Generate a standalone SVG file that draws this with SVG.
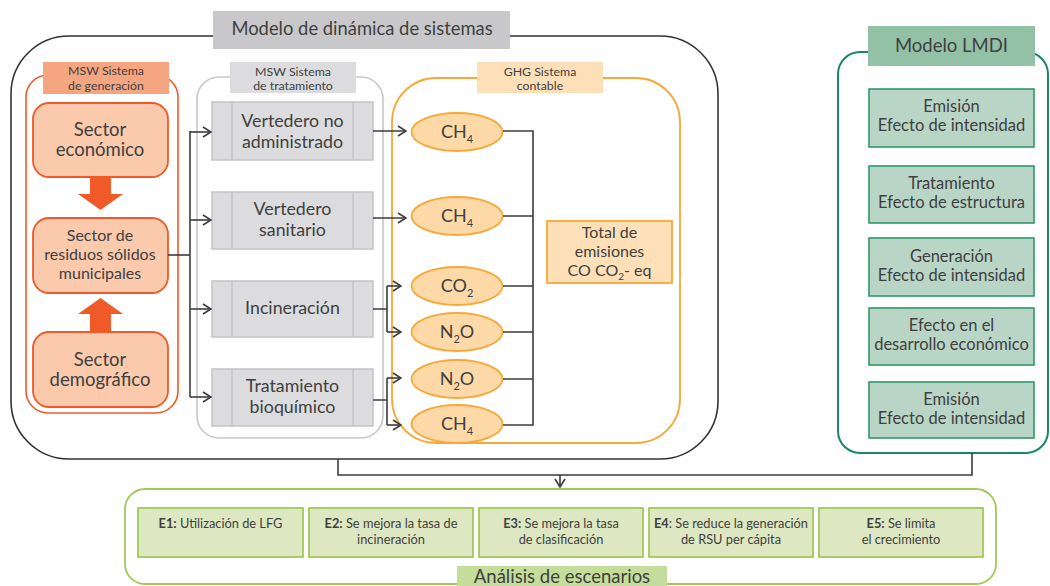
<svg xmlns="http://www.w3.org/2000/svg" width="1050" height="586" viewBox="0 0 1050 586">
<defs>
<style>
text{font-family:Lato,"Open Sans","Liberation Sans",sans-serif;fill:#404040;text-anchor:middle}
.t17{font-size:17.8px}.t18{font-size:18.5px}.t15{font-size:16px}.t11{font-size:12.3px}.t12{font-size:12.8px}.tl{font-size:16.5px}.gt{font-size:18px}.tt{font-size:16px}
.sector{fill:#fbc9ac;stroke:#f05a28;stroke-width:1.8}
.trt{fill:#dcdcde;stroke:#c4c4c6;stroke-width:1.5}
.gas{fill:#fdd9a8;stroke:#f9a838;stroke-width:1.8}
.lmdi{fill:#b9d5c6;stroke:#2e9a6a;stroke-width:1.6}
.esc{fill:#dde8c2;stroke:#a2c85a;stroke-width:1.8}
.con{fill:none;stroke:#3c3c3c;stroke-width:1.6}
.big{fill:#f05a28}
</style>
<marker id="arr" markerWidth="12" markerHeight="12" viewBox="0 0 12 12" refX="11" refY="6" orient="auto" markerUnits="userSpaceOnUse">
<path d="M3,1 L11,6 L3,11" fill="none" stroke="#3c3c3c" stroke-width="1.6"/>
</marker>
</defs>
<rect width="1050" height="586" fill="#fff"/>

<g id="modelo-dinamica">
<rect x="11" y="36" width="707" height="423" rx="58" fill="none" stroke="#333" stroke-width="1.6"/>
<rect x="213" y="11" width="297" height="38" fill="#c8c8ca"/>
<text x="362" y="35" style="font-size:18.4px">Modelo de dinámica de sistemas</text>
</g>

<g id="sistema-generacion">
<rect x="26" y="75" width="152" height="338" rx="22" fill="#fff" stroke="#f05a28" stroke-width="1.6"/>
<rect x="43" y="62" width="126" height="32" fill="#f5a680"/>
<text class="t11" x="106" y="74.5">MSW Sistema</text>
<text class="t11" x="106" y="89.5">de generación</text>
</g>

<g id="sector-economico">
<rect class="sector" x="33" y="103" width="135" height="74" rx="16"/>
<text class="t18" x="100" y="136">Sector</text>
<text class="t18" x="100" y="156">económico</text>
</g>
<g id="flecha-abajo">
<path class="big" d="M90,177 H111 V194 H123 L100.5,210 L78,194 H90 Z"/>
</g>
<g id="sector-residuos">
<rect class="sector" x="33" y="218" width="135" height="75" rx="16"/>
<text class="t15" x="100" y="241">Sector de</text>
<text class="t15" x="100" y="260">residuos sólidos</text>
<text class="t15" x="100" y="279">municipales</text>
</g>
<g id="flecha-arriba">
<path class="big" d="M90,332 H111 V314 H123 L100.5,298 L78,314 H90 Z"/>
</g>
<g id="sector-demografico">
<rect class="sector" x="33" y="332" width="135" height="75" rx="16"/>
<text class="t18" x="100" y="365.5">Sector</text>
<text class="t18" x="100" y="385.5">demográfico</text>
</g>

<g id="sistema-tratamiento">
<rect x="197" y="77" width="186" height="361" rx="22" fill="#fff" stroke="#c8c8ca" stroke-width="1.6"/>
<rect x="230" y="62" width="126" height="31" fill="#dcdcde"/>
<text class="t11" x="293" y="75.5">MSW Sistema</text>
<text class="t11" x="293" y="89.5">de tratamiento</text>
</g>
<g id="vertedero-no-admin">
<rect class="trt" x="212" y="102" width="161" height="58"/>
<path d="M232,102 V160 M353,102 V160" stroke="#c4c4c6" stroke-width="1.5"/>
<text class="t17" x="292.5" y="127">Vertedero no</text>
<text class="t17" x="292.5" y="148">administrado</text>
</g>
<g id="vertedero-sanitario">
<rect class="trt" x="212" y="192" width="161" height="57"/>
<path d="M232,192 V249 M353,192 V249" stroke="#c4c4c6" stroke-width="1.5"/>
<text class="t17" x="292.5" y="215">Vertedero</text>
<text class="t17" x="292.5" y="236">sanitario</text>
</g>
<g id="incineracion">
<rect class="trt" x="212" y="281" width="161" height="56"/>
<path d="M232,281 V337 M353,281 V337" stroke="#c4c4c6" stroke-width="1.5"/>
<text class="t17" x="292.5" y="314">Incineración</text>
</g>
<g id="tratamiento-bioquimico">
<rect class="trt" x="212" y="369" width="161" height="57"/>
<path d="M232,369 V426 M353,369 V426" stroke="#c4c4c6" stroke-width="1.5"/>
<text class="t17" x="292.5" y="392">Tratamiento</text>
<text class="t17" x="292.5" y="413">bioquímico</text>
</g>

<g id="sistema-contable">
<rect x="392" y="78" width="288" height="365" rx="44" fill="#fff" stroke="#f9a838" stroke-width="1.8"/>
<rect x="477" y="62" width="126" height="31" fill="#fde0b8"/>
<text class="t11" x="540" y="75.5">GHG Sistema</text>
<text class="t11" x="540" y="89.5">contable</text>
</g>
<g id="ch4-1">
<ellipse class="gas" cx="457" cy="132" rx="45.5" ry="19"/>
<text class="gt" x="457" y="138">CH<tspan dy="5" style="font-size:11px">4</tspan></text>
</g>
<g id="ch4-2">
<ellipse class="gas" cx="457" cy="216" rx="45.5" ry="19"/>
<text class="gt" x="457" y="222">CH<tspan dy="5" style="font-size:11px">4</tspan></text>
</g>
<g id="co2">
<ellipse class="gas" cx="457" cy="286" rx="45.5" ry="19"/>
<text class="gt" x="457" y="292">CO<tspan dy="5" style="font-size:11px">2</tspan></text>
</g>
<g id="n2o-1">
<ellipse class="gas" cx="457" cy="332" rx="45.5" ry="19"/>
<text class="gt" x="457" y="338">N<tspan dy="5" style="font-size:11px">2</tspan><tspan dy="-5">O</tspan></text>
</g>
<g id="n2o-2">
<ellipse class="gas" cx="457" cy="379" rx="45.5" ry="19"/>
<text class="gt" x="457" y="385">N<tspan dy="5" style="font-size:11px">2</tspan><tspan dy="-5">O</tspan></text>
</g>
<g id="ch4-3">
<ellipse class="gas" cx="457" cy="424" rx="45.5" ry="19"/>
<text class="gt" x="457" y="430">CH<tspan dy="5" style="font-size:11px">4</tspan></text>
</g>
<g id="total-emisiones">
<rect x="547" y="221" width="125" height="62" fill="#fde0b8" stroke="#f9a838" stroke-width="1.8"/>
<text class="tt" x="609.5" y="238">Total de</text>
<text class="tt" x="609.5" y="257">emisiones</text>
<text class="tt" x="609.5" y="276">CO CO<tspan dy="4" style="font-size:10px">2</tspan><tspan dy="-4">- eq</tspan></text>
</g>

<g id="modelo-lmdi">
<rect x="838" y="52" width="210" height="401" rx="22" fill="#fff" stroke="#1a8a5e" stroke-width="2"/>
<rect x="868" y="26" width="167" height="40" fill="#93c1a6"/>
<text x="951.5" y="52" style="font-size:18.5px">Modelo LMDI</text>
</g>
<g id="lmdi-1">
<rect class="lmdi" x="869" y="89" width="165" height="58"/>
<text class="tl" x="951.5" y="112">Emisión</text>
<text class="tl" x="951.5" y="131">Efecto de intensidad</text>
</g>
<g id="lmdi-2">
<rect class="lmdi" x="869" y="166" width="165" height="57"/>
<text class="tl" x="951.5" y="189">Tratamiento</text>
<text class="tl" x="951.5" y="208">Efecto de estructura</text>
</g>
<g id="lmdi-3">
<rect class="lmdi" x="869" y="238" width="165" height="58"/>
<text class="tl" x="951.5" y="262">Generación</text>
<text class="tl" x="951.5" y="281">Efecto de intensidad</text>
</g>
<g id="lmdi-4">
<rect class="lmdi" x="869" y="308" width="165" height="57"/>
<text class="tl" x="951.5" y="331">Efecto en el</text>
<text class="tl" x="951.5" y="350">desarrollo económico</text>
</g>
<g id="lmdi-5">
<rect class="lmdi" x="869" y="382" width="165" height="56"/>
<text class="tl" x="951.5" y="405">Emisión</text>
<text class="tl" x="951.5" y="424">Efecto de intensidad</text>
</g>

<g id="analisis-escenarios">
<rect x="125" y="489" width="871" height="95" rx="20" fill="#fff" stroke="#a2c85a" stroke-width="1.8"/>
<rect x="457" y="566" width="210" height="22" fill="#c5dd9a"/>
<text x="562" y="583" style="font-size:18.5px">Análisis de escenarios</text>
</g>
<g id="e1">
<rect class="esc" x="138" y="508" width="165" height="49"/>
<text class="t12" x="220.5" y="528"><tspan font-weight="bold">E1:</tspan> Utilización de LFG</text>
</g>
<g id="e2">
<rect class="esc" x="309" y="508" width="164" height="49"/>
<text class="t12" x="391" y="528"><tspan font-weight="bold">E2:</tspan> Se mejora la tasa de</text>
<text class="t12" x="391" y="543.5">incineración</text>
</g>
<g id="e3">
<rect class="esc" x="479" y="508" width="164" height="49"/>
<text class="t12" x="561" y="528"><tspan font-weight="bold">E3:</tspan> Se mejora la tasa</text>
<text class="t12" x="561" y="543.5">de clasificación</text>
</g>
<g id="e4">
<rect class="esc" x="649" y="508" width="164" height="49"/>
<text class="t12" x="731" y="528"><tspan font-weight="bold">E4</tspan>: Se reduce la generación</text>
<text class="t12" x="731" y="543.5">de RSU per cápita</text>
</g>
<g id="e5">
<rect class="esc" x="819" y="508" width="164" height="49"/>
<text class="t12" x="901" y="528"><tspan font-weight="bold">E5:</tspan> Se limita</text>
<text class="t12" x="901" y="543.5">el crecimiento</text>
</g>

<g id="connectors">
<path class="con" d="M168,255 H190"/>
<path class="con" d="M190,131 V397"/>
<path class="con" d="M190,132 H211" marker-end="url(#arr)"/>
<path class="con" d="M190,220 H211" marker-end="url(#arr)"/>
<path class="con" d="M190,309 H211" marker-end="url(#arr)"/>
<path class="con" d="M190,397 H211" marker-end="url(#arr)"/>
<path class="con" d="M373,131 H406" marker-end="url(#arr)"/>
<path class="con" d="M373,218 H406" marker-end="url(#arr)"/>
<path class="con" d="M373,309 H387 M387,286 V332"/>
<path class="con" d="M387,286 H401" marker-end="url(#arr)"/>
<path class="con" d="M387,332 H401" marker-end="url(#arr)"/>
<path class="con" d="M373,400 H387 M387,378 V425"/>
<path class="con" d="M387,378 H401" marker-end="url(#arr)"/>
<path class="con" d="M387,425 H401" marker-end="url(#arr)"/>
<path class="con" d="M503,131 H533 V425 H503 M503,216 H533 M503,286 H533 M503,332 H533 M503,379 H533"/>
<path class="con" d="M338,459 V475 H972 V453"/>
<path class="con" d="M560,475 V487" marker-end="url(#arr)"/>
</g>
</svg>
